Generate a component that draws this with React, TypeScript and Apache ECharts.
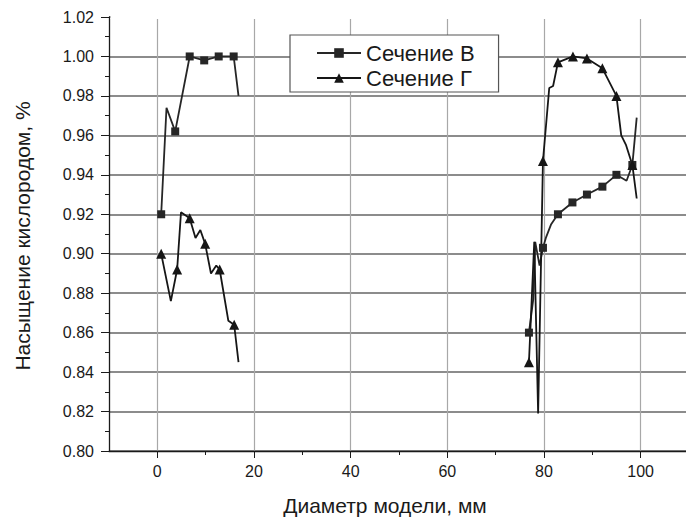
import React, { useEffect, useRef } from "react";
import * as echarts from "echarts";

// Сечение В (squares); null = gap between the two measured regions
const secBX = [0.8, 1.9, 3.7, 6.7, 9.7, 12.7, 15.8, 16.8, 40, 76.9, 77.8, 78.2, 79.1, 79.8, 80.4, 81.5, 82.9, 85.9, 88.9, 92.1, 95.0, 97.1, 98.3, 99.2];
const secBY = [0.920, 0.974, 0.962, 1.000, 0.998, 1.000, 1.000, 0.980, null, 0.860, 0.877, 0.906, 0.894, 0.903, 0.908, 0.915, 0.920, 0.926, 0.930, 0.934, 0.940, 0.937, 0.945, 0.969];
const secBMark = [1, 0, 1, 1, 1, 1, 1, 0, 0, 1, 0, 0, 0, 1, 0, 0, 1, 1, 1, 1, 1, 0, 1, 0];

// Сечение Г (triangles)
const secGX = [0.8, 2.8, 4.1, 4.9, 6.7, 7.9, 8.9, 9.9, 11.1, 12.2, 12.9, 14.7, 15.9, 16.8, 40, 76.9, 78.0, 78.8, 79.8, 81.1, 81.9, 82.9, 86.0, 88.9, 92.1, 95.0, 96.0, 97.0, 98.3, 99.2];
const secGY = [0.900, 0.876, 0.892, 0.921, 0.918, 0.908, 0.912, 0.905, 0.890, 0.894, 0.892, 0.866, 0.864, 0.845, null, 0.845, 0.906, 0.819, 0.947, 0.984, 0.985, 0.997, 1.000, 0.999, 0.994, 0.980, 0.960, 0.955, 0.945, 0.928];
const secGMark = [1, 0, 1, 0, 1, 0, 0, 1, 0, 0, 1, 0, 1, 0, 0, 1, 0, 0, 1, 0, 0, 1, 1, 1, 1, 1, 0, 0, 1, 0];

const seriesNames = ["Сечение В", "Сечение Г"];
const X_MIN = -10;
const X_MAX = 109.4;
const Y_MIN = 0.8;
const Y_MAX = 1.02;
const Y_STEP = 0.02;
const xTickValues = [0, 20, 40, 60, 80, 100];
const xMinorTickValues = [10, 30, 50, 70, 90];
const xTitle = "Диаметр модели, мм";
const yTitle = "Насыщение кислородом, %";

const FONT = 'Arial, "Liberation Sans", sans-serif';
const INK = "#1a1a1a";

function buildData(xs: number[], ys: (number | null)[], marks: number[], sym: string) {
  return xs.map((x, i) =>
    ys[i] === null
      ? { value: [x, "-"] }
      : { value: [x, ys[i]], symbol: marks[i] ? sym : "none" }
  );
}

export default function App() {
  const ref = useRef<HTMLDivElement>(null);
  useEffect(() => {
    document.body.style.margin = "0";
    const chart = echarts.init(ref.current!, null, { renderer: "svg" });
    chart.setOption({
      animation: false,
      backgroundColor: "#fff",
      textStyle: { fontFamily: FONT },
      grid: { left: 109, top: 17, right: 0, bottom: 68, containLabel: false },
      legend: {
        data: seriesNames,
        orient: "vertical",
        left: 290,
        top: 35,
        padding: [7, 24, 3, 26],
        itemGap: 3,
        itemWidth: 44,
        itemHeight: 12,
        borderColor: "#555",
        borderWidth: 1.2,
        backgroundColor: "#fff",
        z: 10,
        textStyle: { fontSize: 22, color: INK, fontFamily: FONT },
      },
      xAxis: [
        {
          type: "value",
          min: X_MIN,
          max: X_MAX,
          position: "bottom",
          axisLine: { show: true, onZero: false, lineStyle: { color: INK, width: 1.3 } },
          axisTick: { show: true, customValues: xTickValues, length: 7, lineStyle: { color: INK } },
          axisLabel: { customValues: xTickValues, margin: 12, fontSize: 16, color: INK, fontFamily: FONT },
          splitLine: { show: true, lineStyle: { color: "#a8a8a8", width: 1.2 } },
        },
        {
          type: "value",
          min: X_MIN,
          max: X_MAX,
          position: "bottom",
          axisLine: { show: false },
          axisTick: { show: true, customValues: xMinorTickValues, length: 4, lineStyle: { color: INK } },
          axisLabel: { show: false },
          splitLine: { show: false },
        },
      ],
      yAxis: {
        type: "value",
        min: Y_MIN,
        max: Y_MAX,
        interval: Y_STEP,
        axisLine: { show: true, onZero: false, lineStyle: { color: INK, width: 1.3 } },
        axisTick: { show: true, length: 8, lineStyle: { color: INK } },
        minorTick: { show: true, splitNumber: 2, length: 4, lineStyle: { color: INK } },
        axisLabel: {
          formatter: (v: number) => v.toFixed(2),
          margin: 15,
          fontSize: 16,
          color: INK,
          fontFamily: FONT,
        },
        splitLine: { show: true, lineStyle: { color: "#8c8c8c", width: 2 } },
      },
      graphic: [
        {
          // hides the split line at the axis maximum (the reference has none there)
          type: "rect",
          z: 2,
          silent: true,
          shape: { x: 110.5, y: 15, width: 576, height: 4 },
          style: { fill: "#fff" },
        },
        {
          type: "text",
          x: 385,
          y: 505,
          style: { text: xTitle, font: `21px ${FONT}`, fill: INK, textAlign: "center", textVerticalAlign: "middle" },
        },
        {
          type: "text",
          x: 22,
          y: 236,
          rotation: Math.PI / 2,
          style: { text: yTitle, font: `21px ${FONT}`, fill: INK, textAlign: "center", textVerticalAlign: "middle" },
        },
      ],
      series: [
        {
          name: seriesNames[0],
          type: "line",
          xAxisIndex: 0,
          symbol: "rect",
          symbolSize: 8,
          connectNulls: false,
          itemStyle: { color: "#262626" },
          lineStyle: { color: "#262626", width: 1.8 },
          data: buildData(secBX, secBY, secBMark, "rect"),
          z: 3,
        },
        {
          name: seriesNames[1],
          type: "line",
          xAxisIndex: 0,
          symbol: "triangle",
          symbolSize: 10,
          connectNulls: false,
          itemStyle: { color: "#161616" },
          lineStyle: { color: "#161616", width: 1.8 },
          data: buildData(secGX, secGY, secGMark, "triangle"),
          z: 3,
        },
      ],
    });
    return () => chart.dispose();
  }, []);
  return <div ref={ref} style={{ width: 686, height: 519 }} />;
}
